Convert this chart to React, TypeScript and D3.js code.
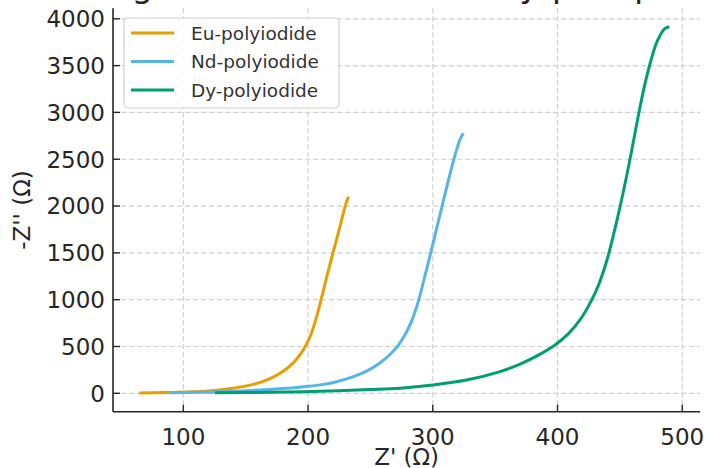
import React from "react";
import * as d3 from "d3";

// values
const euZre = [64.7, 85, 103, 129, 156, 170, 180, 188, 194, 199, 203, 207, 211, 215, 219, 223, 226.5, 229.5, 231.5, 232.5];
const euZim = [3, 8, 14, 35, 95, 160, 235, 322, 420, 530, 655, 825, 1030, 1245, 1450, 1650, 1830, 1985, 2070, 2100];

const ndZre = [89.3, 110, 129.4, 160, 183, 196, 210, 223, 237, 250, 262, 271, 277, 282, 286, 290, 294, 298, 302, 306, 309.5, 313, 316.5, 320, 322.5, 324.6];
const ndZim = [5, 10, 17, 35, 53, 70, 90, 124, 180, 258, 370, 490, 610, 740, 880, 1060, 1270, 1480, 1700, 1920, 2110, 2300, 2480, 2640, 2730, 2775];

const dyZre = [125.4, 170, 210, 250, 274, 300, 327, 354, 370, 385, 398, 409, 418, 426, 433, 440, 447, 454, 460, 465, 470, 475, 479, 482.5, 486, 489.7];
const dyZim = [5, 10, 22, 40, 55, 89, 142, 232, 312, 410, 516, 640, 783, 960, 1160, 1440, 1810, 2230, 2630, 2980, 3300, 3560, 3730, 3830, 3895, 3915];

const seriesNames = ["Eu-polyiodide", "Nd-polyiodide", "Dy-polyiodide"];
const seriesColors = ["#E69F00", "#56B4E9", "#009E73"];

const xTicks = [100, 200, 300, 400, 500];
const yTicks = [0, 500, 1000, 1500, 2000, 2500, 3000, 3500, 4000];

const title = "High-Resolution Halide Nyquist plots";

const W = 706;
const H = 468;
const font = "DejaVu Sans";

const App = () => {
  const x = d3.scaleLinear().domain([43.6, 514.4]).range([113, 700.2]);
  const y = d3.scaleLinear().domain([-196.5, 4112]).range([411.7, 8.3]);

  const line = d3
    .line<[number, number]>()
    .x((d) => x(d[0]))
    .y((d) => y(d[1]))
    .curve(d3.curveCatmullRom.alpha(0.5));

  const series = [
    d3.zip(euZre, euZim) as [number, number][],
    d3.zip(ndZre, ndZim) as [number, number][],
    d3.zip(dyZre, dyZim) as [number, number][],
  ];

  const [x0, x1] = x.range();
  const [y0, y1] = y.range();

  return (
    <svg
      width={W}
      height={H}
      style={{ position: "absolute", left: 0, top: 0, background: "#fff" }}
      fontFamily={font}
    >
      {/* cropped title: only descenders show */}
      <text x={(x0 + x1) / 2} y={-3} textAnchor="middle" fontSize={34} fill="#262626">
        {title}
      </text>

      {/* grid */}
      {xTicks.map((t) => (
        <line key={"gx" + t} x1={x(t)} x2={x(t)} y1={y1} y2={y0}
          stroke="#cfcfcf" strokeWidth={1.2} strokeDasharray="5,3" />
      ))}
      {yTicks.map((t) => (
        <line key={"gy" + t} x1={x0} x2={x1} y1={y(t)} y2={y(t)}
          stroke="#cfcfcf" strokeWidth={1.2} strokeDasharray="5,3" />
      ))}

      {/* curves */}
      {series.map((s, i) => (
        <path key={seriesNames[i]} d={line(s) || ""} fill="none"
          stroke={seriesColors[i]} strokeWidth={3} strokeLinecap="butt" />
      ))}

      {/* spines */}
      <line x1={x0} x2={x0} y1={y1} y2={y0} stroke="#262626" strokeWidth={1.6} />
      <line x1={x0} x2={x1} y1={y0} y2={y0} stroke="#262626" strokeWidth={1.6} />

      {/* ticks */}
      {xTicks.map((t) => (
        <g key={"tx" + t}>
          <line x1={x(t)} x2={x(t)} y1={y0} y2={y0 - 7} stroke="#262626" strokeWidth={1.4} />
          <text x={x(t)} y={444.5} textAnchor="middle" fontSize={23} fill="#262626">{t}</text>
        </g>
      ))}
      {yTicks.map((t) => (
        <g key={"ty" + t}>
          <line x1={x0} x2={x0 + 7} y1={y(t)} y2={y(t)} stroke="#262626" strokeWidth={1.4} />
          <text x={105} y={y(t) + 8.3} textAnchor="end" fontSize={23} fill="#262626">{t}</text>
        </g>
      ))}

      {/* axis labels */}
      <text x={(x0 + x1) / 2} y={465} textAnchor="middle" fontSize={23} fill="#262626">Z' (Ω)</text>
      <text transform={`translate(30,${(y0 + y1) / 2}) rotate(-90)`} textAnchor="middle"
        fontSize={23} fill="#262626">-Z'' (Ω)</text>

      {/* legend */}
      <rect x={124} y={18} width={215} height={90} rx={4} fill="#fff" fillOpacity={0.85}
        stroke="#d0d0d0" strokeWidth={1.2} />
      {seriesNames.map((n, i) => (
        <g key={"lg" + n}>
          <line x1={131} x2={174} y1={33 + i * 28.5} y2={33 + i * 28.5}
            stroke={seriesColors[i]} strokeWidth={3} />
          <text x={191} y={33 + i * 28.5 + 6.7} fontSize={18.5} fill="#333">{n}</text>
        </g>
      ))}
    </svg>
  );
};

export default App;
